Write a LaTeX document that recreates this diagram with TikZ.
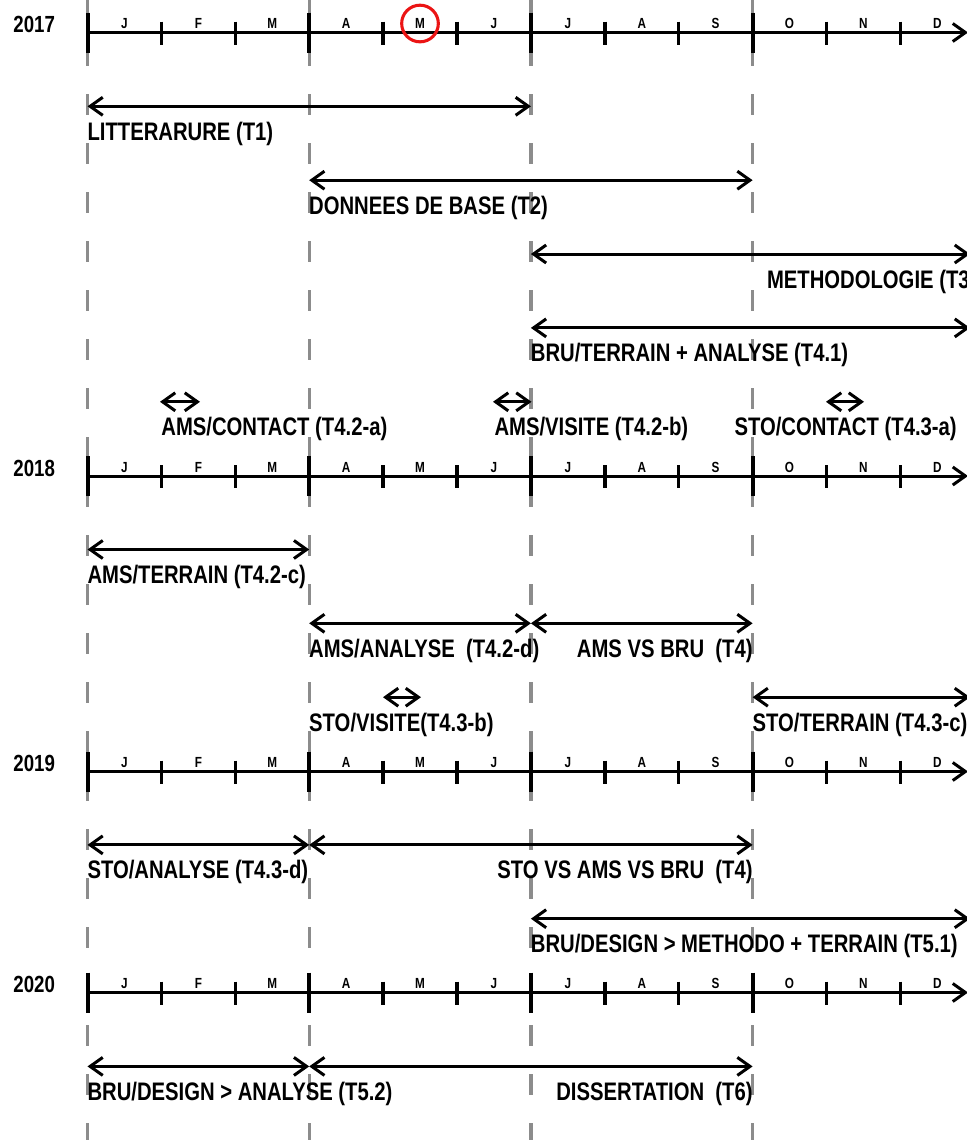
\documentclass[tikz,border=0pt]{standalone}
\usepackage{fontspec}
\setmainfont[FakeStretch=0.8]{Liberation Sans}
\usetikzlibrary{arrows.meta}
\definecolor{dashgray}{RGB}{140,140,140}
\definecolor{circred}{RGB}{235,20,20}
\tikzset{
  every node/.style={inner sep=0pt, outer sep=0pt},
  barb/.tip={Straight Barb[length=9.5pt,width=13.5pt]},
  axisline/.style={line width=2.25pt, -barb},
  minortick/.style={line width=2.6pt},
  majortick/.style={line width=3pt},
  span/.style={line width=2.25pt, barb-barb},
  guide/.style={dashgray, line width=2.4pt, dash pattern=on 15.75pt off 21pt, dash phase=3pt},
  task/.style={font=\fontsize{19pt}{22pt}\selectfont\bfseries, anchor=base west},
  taskr/.style={font=\fontsize{19pt}{22pt}\selectfont\bfseries, anchor=base east},
  month/.style={font=\fontsize{11pt}{12pt}\selectfont\bfseries, anchor=base},
  year/.style={font=\fontsize{17.5pt}{20pt}\selectfont\bfseries, anchor=base east},
  highlight/.style={draw=circred, line width=2.3pt},
}
\newcommand\yearaxis[3]{%
  \node[year] (#1) at (55,#3) {#2};
  \draw[axisline] (87.5,#3) -- (968,#3);
  \foreach \i in {0,3,6,9} \draw[majortick] ({87.5+73.9*\i},{#3-20}) -- ({87.5+73.9*\i},{#3+20});
  \foreach \i in {1,2,4,5,7,8,10,11} \draw[minortick] ({87.5+73.9*\i},{#3-11}) -- ({87.5+73.9*\i},{#3+12});
  \foreach \m [count=\k from 0] in {J,F,M,A,M,J,J,A,S,O,N,D}
    \node[month] (#1m\k) at ({87.5+73.9*(\k+0.5)},{#3-4}) {\m};
}
\begin{document}
\begin{tikzpicture}[x=0.75pt,y=-0.75pt]
\useasboundingbox (0,0) rectangle (967,1140);
\clip (0,0) rectangle (967,1140);
% guide lines
\foreach \i in {0,3,6,9} \draw[guide] ({87.5+73.9*\i},0) -- ({87.5+73.9*\i},1140);

% axes
\yearaxis{y2017}{2017}{32.5}
\yearaxis{y2018}{2018}{476}
\yearaxis{y2019}{2019}{771.5}
\yearaxis{y2020}{2020}{992.5}
\node[highlight, circle, minimum size=27.5pt] (mark) at (420,23.5) {};

% row 1
\draw[span] (87.5,106.3) -- (530.9,106.3);
\node[task] (t1) at (87.5,140.3) {LITTERARURE (T1)};
% row 2
\draw[span] (309.2,180.2) -- (752.6,180.2);
\node[task] (t2) at (309.2,214.2) {DONNEES DE BASE (T2)};
% row 3
\draw[span] (530.9,254) -- (970,254);
\node[task] (t3) at (767,288) {METHODOLOGIE (T3};
% row 4
\draw[span] (530.9,327.9) -- (970,327.9);
\node[task] (t41) at (530.9,361.9) {BRU/TERRAIN + ANALYSE (T4.1)};
% row 5
\draw[span] (160,401.8) -- (200,401.8);
\node[task] (t42a) at (161.4,435.8) {AMS/CONTACT (T4.2-a)};
\draw[span] (493,401.8) -- (531.5,401.8);
\node[task] (t42b) at (494.5,435.8) {AMS/VISITE (T4.2-b)};
\draw[span] (826,401.8) -- (864,401.8);
\node[task] (t43a) at (734.5,435.8) {STO/CONTACT (T4.3-a)};
% row 7
\draw[span] (87.5,549.5) -- (309.2,549.5);
\node[task] (t42c) at (87.5,583.5) {AMS/TERRAIN (T4.2-c)};
% row 8
\draw[span] (309.2,623.3) -- (530.9,623.3);
\draw[span] (530.9,623.3) -- (752.6,623.3);
\node[task] (t42d) at (309.2,657.3) {AMS/ANALYSE\ \ (T4.2-d)};
\node[taskr] (t4a) at (752.6,657.3) {AMS VS BRU\ \ (T4)};
% row 9
\draw[span] (383,697.2) -- (421,697.2);
\node[task] (t43b) at (309.2,731.2) {STO/VISITE(T4.3-b)};
\draw[span] (752.6,697.2) -- (970,697.2);
\node[task] (t43c) at (752.6,731.2) {STO/TERRAIN (T4.3-c)};
% row 11
\draw[span] (87.5,844.9) -- (309.2,844.9);
\draw[span] (309.2,844.9) -- (752.6,844.9);
\node[task] (t43d) at (87.5,878.9) {STO/ANALYSE (T4.3-d)};
\node[taskr] (t4b) at (752.6,878.9) {STO VS AMS VS BRU\ \ (T4)};
% row 12
\draw[span] (530.9,918.7) -- (970,918.7);
\node[task] (t51) at (530.9,952.7) {BRU/DESIGN > METHODO + TERRAIN (T5.1)};
% row 14
\draw[span] (87.5,1066.4) -- (309.2,1066.4);
\draw[span] (309.2,1066.4) -- (752.6,1066.4);
\node[task] (t52) at (87.5,1100.4) {BRU/DESIGN > ANALYSE (T5.2)};
\node[taskr] (t6) at (752.6,1100.4) {DISSERTATION\ \ (T6)};
\end{tikzpicture}
\end{document}
